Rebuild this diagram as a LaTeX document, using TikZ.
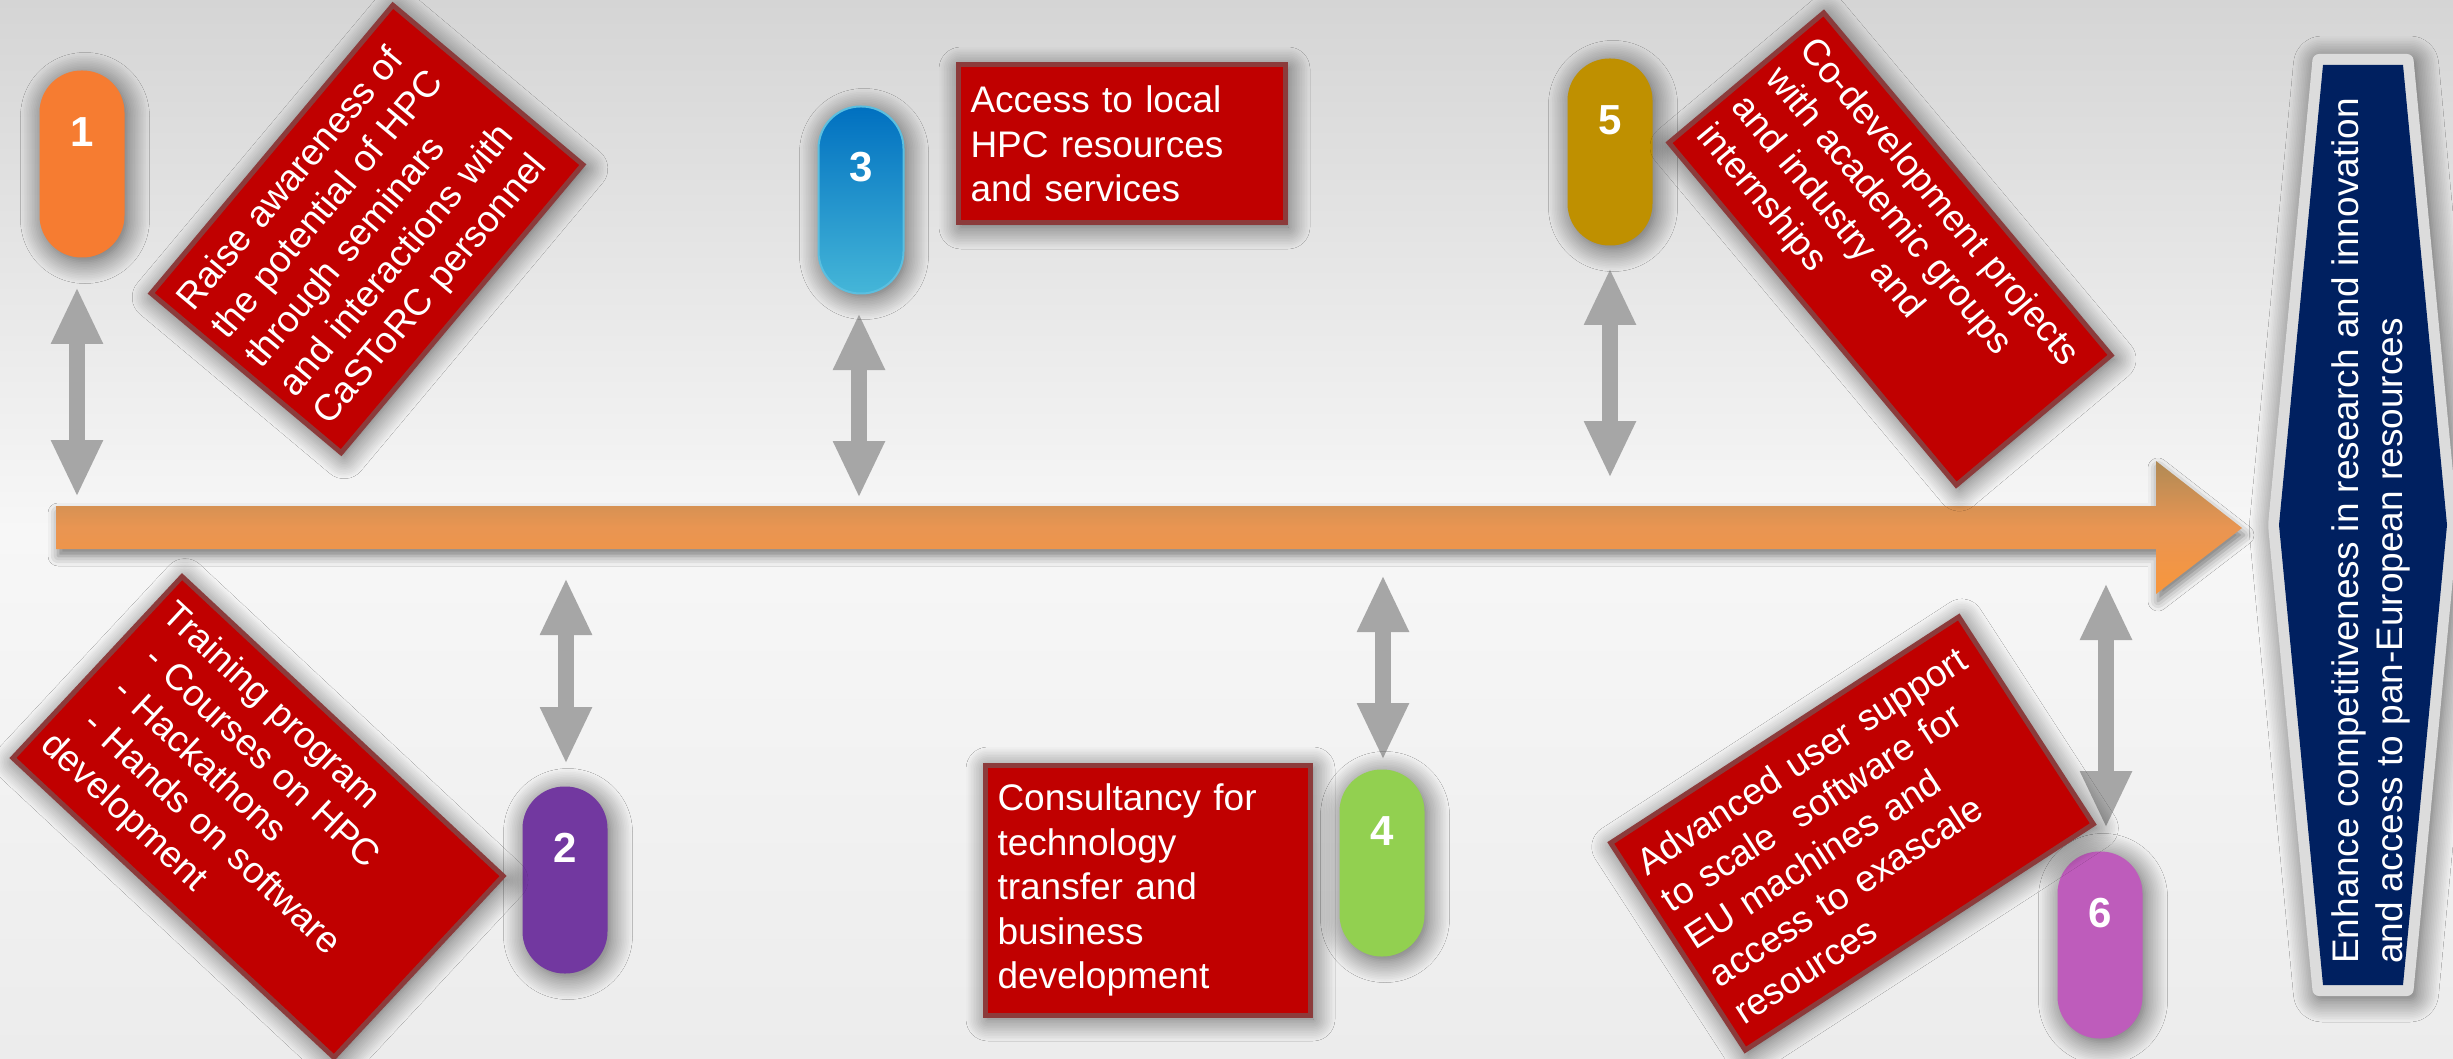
\documentclass[tikz,border=0pt]{standalone}
\usepackage{fontspec}
\setmainfont{Liberation Sans}
\usetikzlibrary{arrows.meta,shadows.blur}
\definecolor{bgtop}{HTML}{D5D5D5}
\definecolor{bgmid}{HTML}{F7F7F7}
\definecolor{bgbot}{HTML}{ECECEC}
\definecolor{boxred}{HTML}{C00000}
\definecolor{boxedge}{HTML}{8C3B3B}
\definecolor{arrgray}{HTML}{A6A6A6}
\definecolor{orgtop}{HTML}{B08A55}
\definecolor{orgmid}{HTML}{E99552}
\definecolor{orgbot}{HTML}{F8963C}
\definecolor{pillA}{HTML}{F67C31}
\definecolor{pillB}{HTML}{7238A0}
\definecolor{pillCtop}{HTML}{0070C0}
\definecolor{pillCbot}{HTML}{45B6D8}
\definecolor{pillCedge}{HTML}{5BBFE0}
\definecolor{pillD}{HTML}{92D050}
\definecolor{pillE}{HTML}{BF9000}
\definecolor{pillF}{HTML}{BE5CBB}
\definecolor{hexnavy}{HTML}{002060}
\definecolor{hexgray}{HTML}{DCDCDC}
\newcommand\bxfont{\fontsize{37}{44.5}\selectfont}
\newcommand\pillnumfont{\fontsize{42}{42}\selectfont\bfseries}
\begin{document}
\begin{tikzpicture}[x=1pt,y=-1pt,
  softshadow/.style={blur shadow={shadow xshift=3pt,shadow yshift=-4pt,shadow blur radius=22pt,shadow opacity=62,shadow blur steps=14}},
  redbox/.style={draw=boxedge,line width=5pt,fill=boxred,text=white,font=\bxfont,align=left,inner xsep=10pt,inner ysep=2pt,softshadow},
  pill/.style={minimum width=85pt,minimum height=187pt,rounded corners=42pt,inner sep=0pt,softshadow},
  pillnum/.style={text=white,font=\pillnumfont,inner sep=0pt},
  dblarrow/.style={draw=arrgray,line width=16pt,{Triangle[width=48pt,length=57pt]}-{Triangle[width=48pt,length=57pt]}},
]
\useasboundingbox (0,0) rectangle (2453,1059);
\shade[top color=bgtop,bottom color=bgmid] (0,0) rectangle (2453,530);
\shade[top color=bgmid,bottom color=bgbot] (0,530) rectangle (2453,1059);

% main orange arrow
\path[blur shadow={shadow xshift=2pt,shadow yshift=-7pt,shadow blur radius=10pt,shadow opacity=50},top color=orgtop,bottom color=orgbot,middle color=orgmid]
  (56,506) -- (2156,506) -- (2156,461) -- (2242,528) -- (2156,594) -- (2156,549) -- (56,549) -- cycle;

% double arrows
\coordinate (a1t) at (77,287);   \coordinate (a1b) at (77,497);
\coordinate (a2t) at (566,578);  \coordinate (a2b) at (566,764);
\coordinate (a3t) at (859,313);  \coordinate (a3b) at (859,498);
\coordinate (a4t) at (1383,575); \coordinate (a4b) at (1383,760);
\coordinate (a5t) at (1610,268); \coordinate (a5b) at (1610,478);
\coordinate (a6t) at (2106,583); \coordinate (a6b) at (2106,828);
\draw[dblarrow] (a1t) -- (a1b);
\draw[dblarrow] (a2t) -- (a2b);
\draw[dblarrow] (a3t) -- (a3b);
\draw[dblarrow] (a4t) -- (a4b);
\draw[dblarrow] (a5t) -- (a5b);
\draw[dblarrow] (a6t) -- (a6b);

% pills
\node[pill,fill=pillA] (p1) at (82,164) {};
\node[pill,fill=pillB] (p2) at (565,880) {};
\node[pill,top color=pillCtop,bottom color=pillCbot,draw=pillCedge,line width=2pt] (p3) at (861,200) {};
\node[pill,fill=pillD] (p4) at (1382,863) {};
\node[pill,fill=pillE] (p5) at (1610,152) {};
\node[pill,fill=pillF] (p6) at (2100,945) {};
\node[pillnum] (n1) at ([yshift=-62pt]p1.north) {1};
\node[pillnum] (n2) at ([yshift=-62pt]p2.north) {2};
\node[pillnum] (n3) at ([yshift=-62pt]p3.north) {3};
\node[pillnum] (n4) at ([yshift=-62pt]p4.north) {4};
\node[pillnum] (n5) at ([yshift=-62pt]p5.north) {5};
\node[pillnum] (n6) at ([yshift=-62pt]p6.north) {6};

% red boxes
\node[redbox,rotate=50,minimum width=376pt,minimum height=248pt,text width=351pt] (b1) at (367,229)
  {Raise awareness of\\the potential of HPC\\through seminars\\and interactions with\\CaSToRC personnel};
\node[redbox,rotate=-43,minimum width=439pt,minimum height=248pt,text width=414pt] (b2) at (258,817)
  {Training program\\\hspace*{16pt}- Courses on HPC\\\hspace*{16pt}- Hackathons\\\hspace*{16pt}- Hands on software\\development};
\node[redbox,minimum width=327pt,minimum height=158pt,text width=302pt] (b3) at (1121.5,144)
  {Access to local\\HPC resources\\and services};
\node[redbox,minimum width=325pt,minimum height=250pt,text width=300pt] (b4) at (1147.5,890)
  {Consultancy for\\technology\\transfer and\\business\\development};
\node[redbox,rotate=-50,minimum width=447pt,minimum height=202pt,text width=422pt] (b5) at (1890,249)
  {Co-development projects\\with academic groups\\and industry and\\internships};
\node[redbox,rotate=33,minimum width=415pt,minimum height=247pt,text width=390pt] (b6) at (1852,833.5)
  {Advanced user support\\to scale\ \ software for\\EU machines and\\access to exascale\\resources};

% goal hexagon
\path[fill=hexgray,softshadow,rounded corners=6pt]
  (2313,54) -- (2413,54) -- (2458,525) -- (2413,996) -- (2313,996) -- (2268,525) -- cycle;
\path[fill=hexnavy]
  (2323,65) -- (2403,65) -- (2447,525) -- (2403,985) -- (2323,985) -- (2279,525) -- cycle;
\node[rotate=90,align=left,text=white,font=\bxfont,inner sep=0pt] (goal) at (2371,531)
  {Enhance competitiveness in research and innovation\\and access to pan-European resources};
\end{tikzpicture}
\end{document}
